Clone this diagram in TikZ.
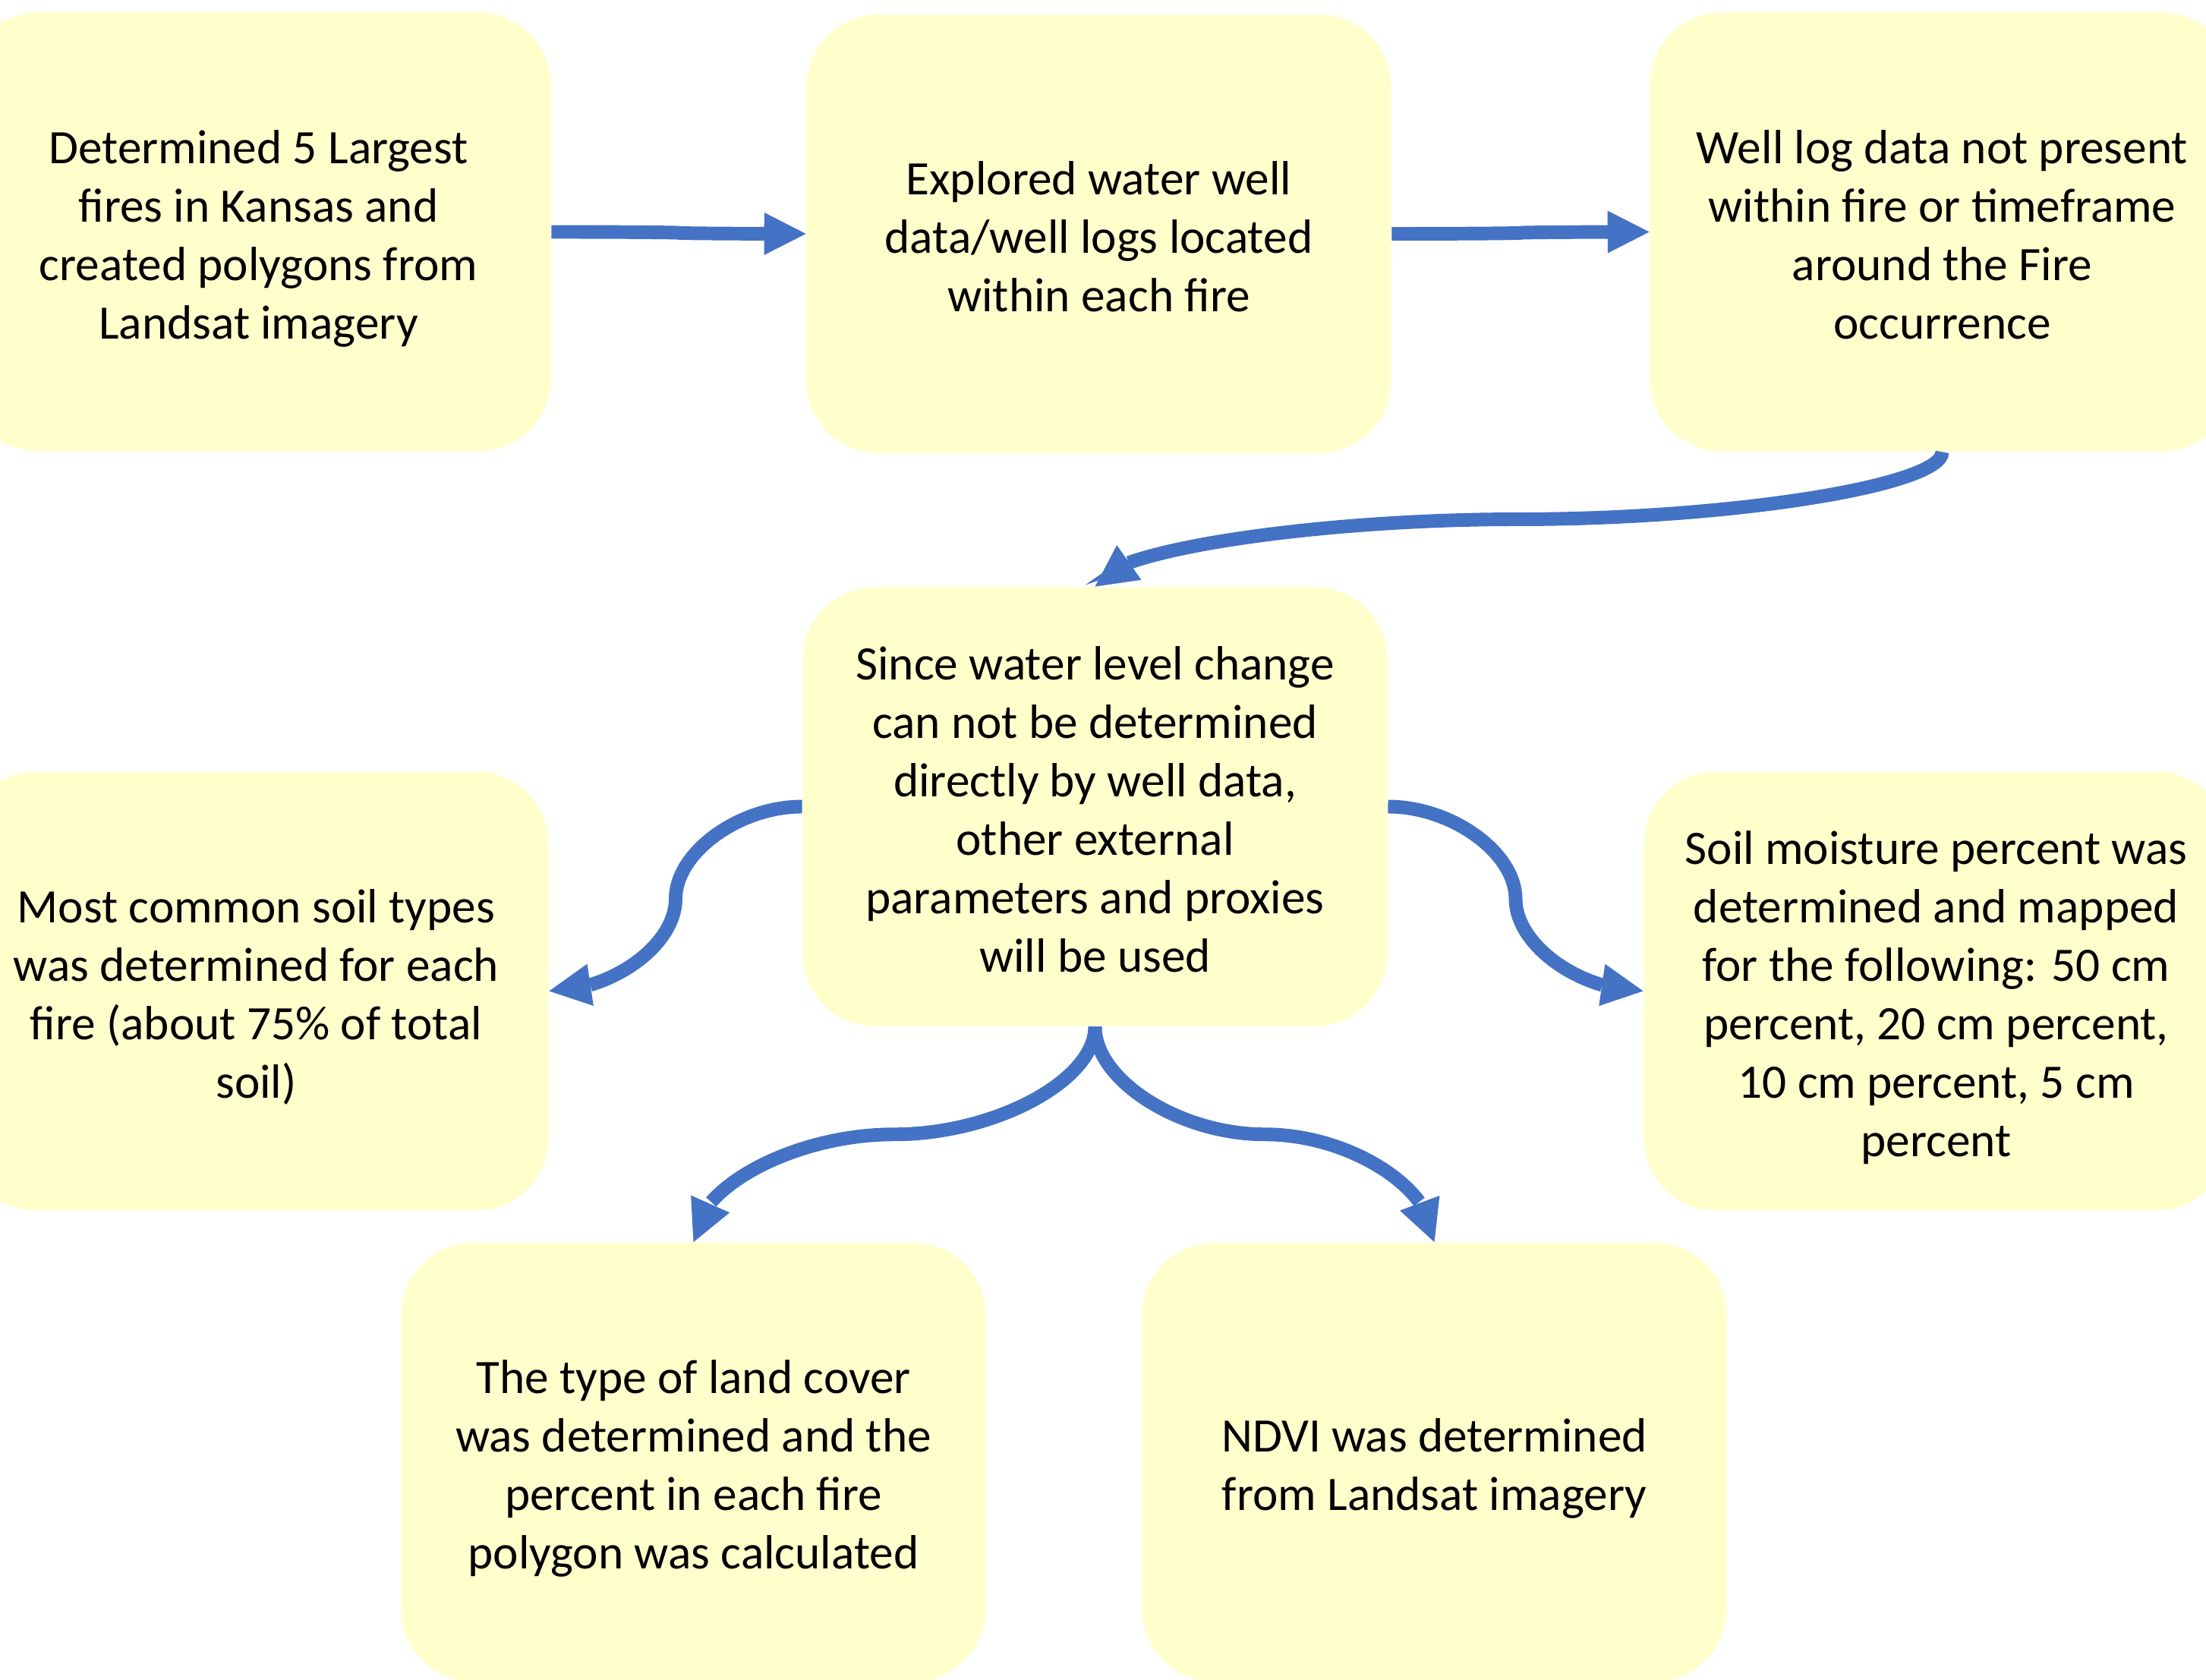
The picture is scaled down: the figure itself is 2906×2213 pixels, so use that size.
\documentclass[tikz,border=0pt]{standalone}
\usepackage{fontspec}
\setmainfont{Carlito}
\usetikzlibrary{arrows.meta,bending,calc}
\definecolor{boxfill}{HTML}{FFFFCC}
\definecolor{arrowblue}{HTML}{4472C4}
\newcommand{\boxtop}{\vrule height 19.3pt depth 0pt width 0pt}
\newcommand{\boxbot}{\vrule height 0pt depth 5pt width 0pt}
\tikzset{
  procbox/.style={rectangle, rounded corners=0.96cm, fill=boxfill, draw=none,
    minimum width=7.70cm, minimum height=5.78cm, inner sep=0pt, align=center,
    font=\fontsize{18pt}{21.9pt}\selectfont, text=black,
    execute at end node={\boxbot}},
  conn/.style={draw=arrowblue, line width=5.1pt,
    -{Triangle[length=15.6pt,width=15.9pt,line width=0pt,flex]}},
  connq/.style={draw=arrowblue, line width=5.1pt,
    -{Triangle[length=15.6pt,width=15.9pt,line width=0pt,quick]}}
}
% horizontal-start curved connector (Office curvedConnector3)
\newcommand{\hcurve}[2]{%
  \draw[conn] let \p1=(#1), \p2=(#2) in
    (\p1) .. controls ({0.75*\x1+0.25*\x2},\y1) and ({0.5*\x1+0.5*\x2},{0.75*\y1+0.25*\y2})
    .. ({0.5*\x1+0.5*\x2},{0.5*\y1+0.5*\y2})
    .. controls ({0.5*\x1+0.5*\x2},{0.25*\y1+0.75*\y2}) and ({0.25*\x1+0.75*\x2},\y2)
    .. (\p2);}
% vertical-start curved connector (last half split in two for the arrow tip)
\newcommand{\vcurve}[2]{%
  \draw[conn] let \p1=(#1), \p2=(#2) in
    (\p1) .. controls (\x1,{0.75*\y1+0.25*\y2}) and ({0.75*\x1+0.25*\x2},{0.5*\y1+0.5*\y2})
    .. ({0.5*\x1+0.5*\x2},{0.5*\y1+0.5*\y2})
    .. controls ({0.375*\x1+0.625*\x2},{0.5*\y1+0.5*\y2}) and ({0.25*\x1+0.75*\x2},{0.4375*\y1+0.5625*\y2})
    .. ({0.15625*\x1+0.84375*\x2},{0.34375*\y1+0.65625*\y2})
    .. controls ({0.0625*\x1+0.9375*\x2},{0.25*\y1+0.75*\y2}) and (\x2,{0.125*\y1+0.875*\y2})
    .. (\p2);}
% long vertical-start connector: curve cut where the tip begins, tip along the chord
\newcommand{\vcurvechord}[2]{%
  \draw[connq] let \p1=(#1), \p2=(#2) in
    (\p1) .. controls (\x1,{0.75*\y1+0.25*\y2}) and ({0.75*\x1+0.25*\x2},{0.5*\y1+0.5*\y2})
    .. ({0.5*\x1+0.5*\x2},{0.5*\y1+0.5*\y2})
    .. controls ({0.31*\x1+0.69*\x2},{0.5*\y1+0.5*\y2}) and ({0.12*\x1+0.88*\x2},{0.3556*\y1+0.6444*\y2})
    .. ({0.039744*\x1+0.960256*\x2},{0.176544*\y1+0.823456*\y2})
    -- (\p2);}
\begin{document}
\begin{tikzpicture}[x=0.01cm, y=-0.01cm]
\useasboundingbox (0,0) rectangle (2906,2213);
\clip (0,0) rectangle (2906,2213);

\node[procbox] (b1) at (340.5,305.5) {\boxtop Determined 5 Largest\\fires in Kansas and\\created polygons from\\Landsat imagery};
\node[procbox] (b2) at (1447.5,308) {\boxtop Explored water well\\data/well logs located\\within each fire};
\node[procbox] (b3) at (2558.5,305.5) {\boxtop Well log data not present\\within fire or timeframe\\around the Fire\\occurrence};
\node[procbox] (c) at (1442.5,1062.5) {\boxtop Since water level change\\can not be determined\\directly by well data,\\other external\\parameters and proxies\\will be used};
\node[procbox] (l) at (337.5,1305.5) {\boxtop Most common soil types\\was determined for each\\fire (about 75\% of total\\soil)};
\node[procbox] (r) at (2550.5,1305.5) {\boxtop Soil moisture percent was\\determined and mapped\\for the following: 50 cm\\percent, 20 cm percent,\\10 cm percent, 5 cm\\percent};
\node[procbox] (bl) at (913.5,1926) {\boxtop The type of land cover\\was determined and the\\percent in each fire\\polygon was calculated};
\node[procbox] (br) at (1889.5,1926) {\boxtop NDVI was determined\\from Landsat imagery};

\hcurve{b1.east}{b2.west}
\hcurve{b2.east}{b3.west}
\vcurvechord{b3.south}{c.north}
\hcurve{c.west}{l.east}
\hcurve{c.east}{r.west}
\vcurve{c.south}{bl.north}
\vcurve{c.south}{br.north}
\end{tikzpicture}
\end{document}
